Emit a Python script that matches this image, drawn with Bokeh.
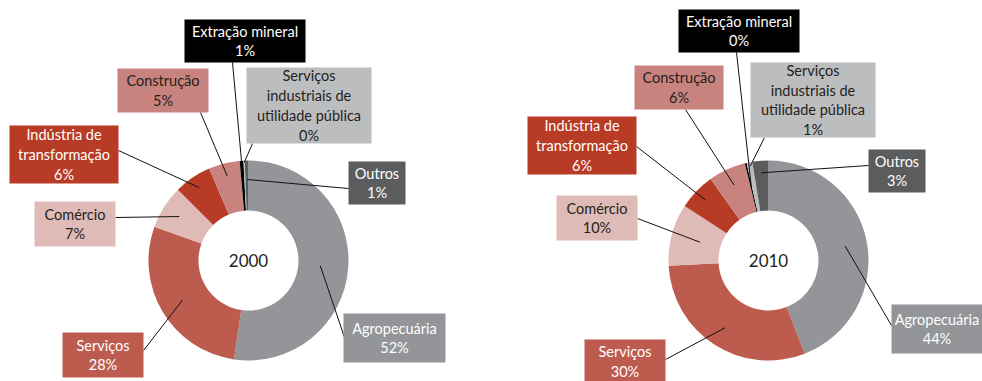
import math
from bokeh.plotting import figure
from bokeh.models import Range1d, ColumnDataSource
from bokeh.core.properties import value
from bokeh.embed import file_html
from bokeh.resources import INLINE

# ---------------- data ----------------
categories = ["Agropecuária", "Serviços", "Comércio", "Indústria de transformação",
              "Construção", "Extração mineral",
              "Serviços industriais de utilidade pública", "Outros"]
label_lines = ["Agropecuária", "Serviços", "Comércio", "Indústria de\ntransformação",
               "Construção", "Extração mineral",
               "Serviços\nindustriais de\nutilidade pública", "Outros"]
years = ["2000", "2010"]
shares_2000 = [52, 28, 7, 6, 5, 0.6, 0.2, 0.6]
shares_2010 = [44, 30, 10, 6, 6, 0.3, 0.9, 2.6]

# ---------------- styles ----------------
colors = ["#939598", "#bd5b4f", "#dfbbb8", "#b83b25", "#c9837e", "#000000", "#bcbdbf", "#5b5c5e"]
text_colors = ["#ffffff", "#ffffff", "#231f20", "#ffffff", "#231f20", "#ffffff", "#231f20", "#ffffff"]
FONT = "Lato"

# ---------------- layout (page pixels) ----------------
W, H = 982, 381
centers = [(248, 260), (768, 260)]
R_IN, R_OUT = 50, 100
# boxes: left, top, right, bottom
boxes = [
    [(343, 313, 445, 362), (62, 332, 143, 377), (34, 201, 115, 246), (9, 125, 118, 183),
     (117, 68, 208, 112), (184, 19, 305, 62), (246, 67, 371, 143), (348, 161, 405, 204)],
    [(891, 304, 993, 353), (584, 339, 665, 384), (556, 195, 637, 240), (527, 116, 636, 174),
     (634, 65, 723, 109), (678, 9, 799, 52), (750, 62, 875, 137), (868, 149, 925, 192)],
]
anchors = [
    [(344, 337), (143, 350), (115, 217), (118, 150), (200, 112), (232, 62), (252, 143), (348, 188)],
    [(891, 325), (665, 359), (637, 218), (636, 146), (685, 109), (736, 52), (764, 137), (868, 165)],
]
leader_r = [
    [72, 77, 82, 88, 87, 97, 98, 81],
    [78, 80, 71, 87, 83, 75, 96, 88],
]


def Y(py):
    return H - py


p = figure(width=W, height=H, x_range=Range1d(0, W), y_range=Range1d(0, H),
           output_backend="svg", toolbar_location=None, min_border=0)
p.axis.visible = False
p.grid.visible = False
p.outline_line_color = None
p.background_fill_color = "#ffffff"

for k, shares in enumerate([shares_2000, shares_2010]):
    cx, cy = centers[k]
    total = sum(shares)
    starts, ends, mids = [], [], []
    cum = 0.0
    for v in shares:
        f0 = cum / total
        cum += v
        f1 = cum / total
        starts.append(math.pi / 2 - 2 * math.pi * f0)
        ends.append(math.pi / 2 - 2 * math.pi * f1)
        mids.append((f0 + f1) / 2)
    src = ColumnDataSource(dict(start=starts, end=ends, color=colors, cat=categories))
    p.annular_wedge(x=cx, y=Y(cy), inner_radius=R_IN, outer_radius=R_OUT,
                    start_angle="start", end_angle="end", direction="clock",
                    fill_color="color", line_color=None, source=src)

    # leader lines
    xs, ys = [], []
    for i, fm in enumerate(mids):
        th = 2 * math.pi * fm
        r = leader_r[k][i]
        ex = cx + r * math.sin(th)
        ey = cy - r * math.cos(th)
        ax, ay = anchors[k][i]
        xs.append([ax, ex])
        ys.append([Y(ay), Y(ey)])
    p.multi_line(xs=xs, ys=ys, line_color="#111111", line_width=1)

    # label boxes
    lefts = [b[0] for b in boxes[k]]
    rights = [b[2] for b in boxes[k]]
    tops = [Y(b[1]) for b in boxes[k]]
    bottoms = [Y(b[3]) for b in boxes[k]]
    p.quad(left=lefts, right=rights, top=tops, bottom=bottoms, fill_color=colors, line_color=None)

    texts = [f"{label_lines[i]}\n{round(v)}%" for i, v in enumerate(shares)]
    # center text in the visible part of each box
    tx = [(max(b[0], 0) + min(b[2], W)) / 2 for b in boxes[k]]
    ty = [Y((b[1] + min(b[3], H + 2)) / 2) for b in boxes[k]]
    p.text(x=tx, y=ty, text=texts, text_align="center", text_baseline="middle",
           text_color=text_colors, text_font=value(FONT), text_font_size="14.5px",
           text_line_height=1.17)

    p.text(x=[cx], y=[Y(cy)], text=[years[k]], text_align="center", text_baseline="middle",
           text_color="#231f20", text_font=value(FONT), text_font_size="17px")

open("out.html", "w").write(file_html(p, INLINE))
